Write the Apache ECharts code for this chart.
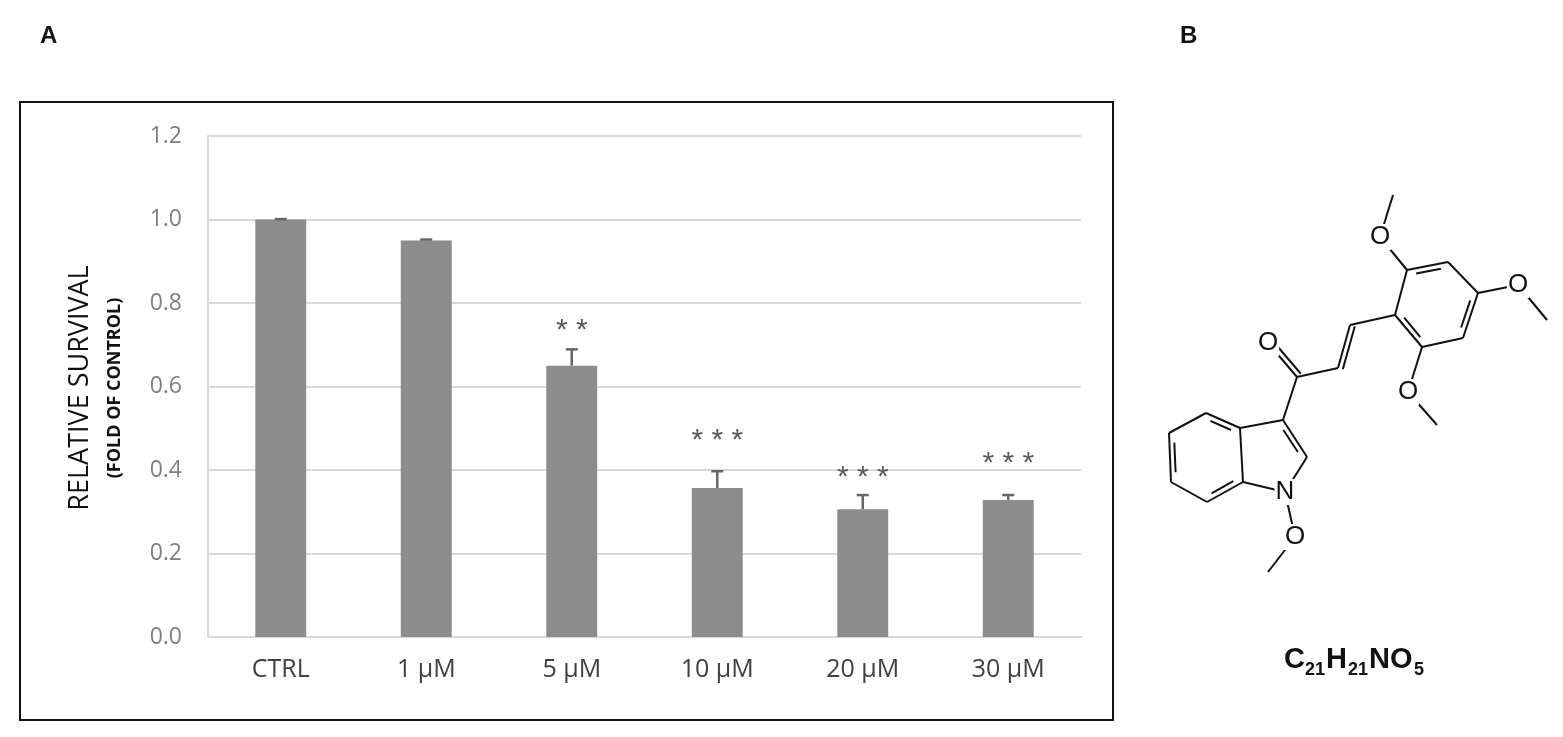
<!DOCTYPE html>
<html><head><meta charset="utf-8">
<script src="https://cdn.jsdelivr.net/npm/echarts@6/dist/echarts.min.js"></script>
<style>html,body{margin:0;padding:0;background:#fff}#c{width:1563px;height:737px}</style>
</head><body><div id="c"></div>
<script>
const categories = ['CTRL', '1 µM', '5 µM', '10 µM', '20 µM', '30 µM'];
const survival = [1.0, 0.95, 0.65, 0.357, 0.306, 0.328];
const errorUpper = [0.001, 0.002, 0.039, 0.04, 0.034, 0.012];
const stars = ['', '', '**', '***', '***', '***'];
const starLevel = [0, 0, 0.742, 0.479, 0.39, 0.424];
const yTicks = [0, 0.2, 0.4, 0.6, 0.8, 1.0, 1.2];

const chart = echarts.init(document.getElementById('c'));
const font = '"Open Sans", "Liberation Sans", sans-serif';
const sans = '"Liberation Sans", sans-serif';

const atoms = {
  b1:[1206,413], b2:[1240,428], b3:[1243,482], b4:[1207,502], b5:[1171,482], b6:[1169,433],
  c3:[1283,420], c2:[1307,457], n:[1285,492], cc:[1297,377], o1:[1268,343], ca:[1338,368], cb:[1350,325],
  r1:[1395,315], r2:[1407,270], r3:[1448,262], r4:[1478,293], r5:[1463,338], r6:[1422,347],
  o2:[1380,237], m2:[1393,195], o4:[1518,285], m4:[1547,320], o6:[1408,392], m6:[1437,425],
  on:[1295,537], mn:[1268,572]
};
const single = [['b1','b2'],['b3','b4'],['b5','b6'],['b2','b3'],['b2','c3'],['c3','c2'],['c2','n'],['n','b3'],
  ['c3','cc'],['cc','ca'],['cb','r1'],['r1','r2'],['r2','r3'],['r3','r4'],['r4','r5'],['r5','r6'],['r6','r1'],
  ['r2','o2'],['o2','m2'],['r4','o4'],['o4','m4'],['r6','o6'],['o6','m6'],['n','on'],['on','mn'],
  ['b4','b5'],['b6','b1'],['cc','o1'],['ca','cb']];
const benzC=[1206,457], ringC=[1435,304], pyrC=[1265,455];
const inner = [['b1','b2',benzC],['b3','b4',benzC],['b5','b6',benzC],['c3','c2',pyrC],
  ['r2','r3',ringC],['r4','r5',ringC],['r6','r1',ringC]];
const offs = [['cc','o1'],['ca','cb']];
const g = [];
const line = (a,b) => g.push({type:'line',shape:{x1:a[0],y1:a[1],x2:b[0],y2:b[1]},style:{stroke:'#111',lineWidth:2},z:10});
single.forEach(([a,b]) => line(atoms[a], atoms[b]));
inner.forEach(([a,b,c]) => {
  const A=atoms[a],B=atoms[b];
  const sh=(P)=>{const dx=c[0]-P[0],dy=c[1]-P[1],d=Math.hypot(dx,dy);return [P[0]+dx/d*6,P[1]+dy/d*6];};
  let A2=sh(A),B2=sh(B);
  const t=0.15; const a2=[A2[0]+(B2[0]-A2[0])*t,A2[1]+(B2[1]-A2[1])*t], b2=[B2[0]+(A2[0]-B2[0])*t,B2[1]+(A2[1]-B2[1])*t];
  line(a2,b2);
});
offs.forEach(([a,b]) => {
  const A=atoms[a],B=atoms[b];const dx=B[0]-A[0],dy=B[1]-A[1],d=Math.hypot(dx,dy);
  const nx=-dy/d*5,ny=dx/d*5; line([A[0]+nx,A[1]+ny],[B[0]+nx,B[1]+ny]);
});
[['o1','O'],['o2','O'],['o4','O'],['o6','O'],['on','O'],['n','N']].forEach(([k,t]) => {
  g.push({type:'text',x:atoms[k][0],y:atoms[k][1],z:20,style:{text:t,fontSize:26,fontFamily:sans,fill:'#111',align:'center',verticalAlign:'middle',backgroundColor:'#fff',padding:[0,1]}});
});
const T = (x,y,text,size,bold,extra) => Object.assign({type:'text',x,y,style:{text,fontSize:size,fontWeight:bold?'bold':'normal',fontFamily:sans,fill:'#111',align:'left',verticalAlign:'middle'}},extra||{});

chart.setOption({
  animation:false,
  grid:{left:208,right:1563-1081,top:136,bottom:737-637},
  xAxis:{type:'category',data:categories,axisTick:{show:false},
    axisLine:{lineStyle:{color:'#d9d9d9',width:2}},
    axisLabel:{color:'#404040',fontSize:25,fontFamily:font,margin:20}},
  yAxis:{type:'value',min:0,max:1.2,interval:0.2,
    axisLine:{show:true,lineStyle:{color:'#d9d9d9',width:2}},axisTick:{show:false},
    splitLine:{lineStyle:{color:'#d9d9d9',width:2}},
    axisLabel:{color:'#7f7f7f',fontSize:23,fontFamily:font,margin:26,formatter:v=>v.toFixed(1)}},
  series:[
    {type:'bar',data:survival,barWidth:'35%',itemStyle:{color:'#8c8c8c'},z:2},
    {type:'custom',z:5,data:survival.map((v,i)=>[i,v,v+errorUpper[i],starLevel[i]]),
      renderItem:(p,api)=>{
        const i=api.value(0);const b=api.coord([i,api.value(1)]);const t=api.coord([i,api.value(2)]);
        const ch=[{type:'line',shape:{x1:b[0],y1:b[1],x2:t[0],y2:t[1]},style:{stroke:'#666',lineWidth:2.5}},
          {type:'line',shape:{x1:t[0]-6,y1:t[1],x2:t[0]+6,y2:t[1]},style:{stroke:'#666',lineWidth:2.5}}];
        if(stars[i]){const s=api.coord([i,api.value(3)]);
          ch.push({type:'text',x:s[0],y:s[1]+4,style:{text:stars[i].split('').join(' '),fontSize:30,fontFamily:sans,fill:'#595959',align:'center',verticalAlign:'middle'}});}
        return {type:'group',children:ch};
      }}
  ],
  graphic:[
    {type:'rect',shape:{x:20,y:102,width:1093,height:618},style:{fill:'none',stroke:'#111',lineWidth:2}},
    T(40,36,'A',24,true),
    T(1180,36,'B',24,true),
    {type:'text',x:80,y:388,rotation:Math.PI/2,style:{text:'RELATIVE SURVIVAL',fontSize:27,fontFamily:'"Open Sans", sans-serif',fill:'#111',align:'center',verticalAlign:'middle'}},
    {type:'text',x:115,y:388,rotation:Math.PI/2,style:{text:'(FOLD OF CONTROL)',fontSize:18,fontWeight:'bold',fontFamily:'"Open Sans", sans-serif',fill:'#111',align:'center',verticalAlign:'middle'}},
    T(1284,660,'C',29,true), T(1305,670,'21',18,true),
    T(1326,660,'H',29,true), T(1348,670,'21',18,true),
    T(1369,660,'NO',29,true), T(1414,670,'5',18,true),
    ...g
  ]
});
</script></body></html>
